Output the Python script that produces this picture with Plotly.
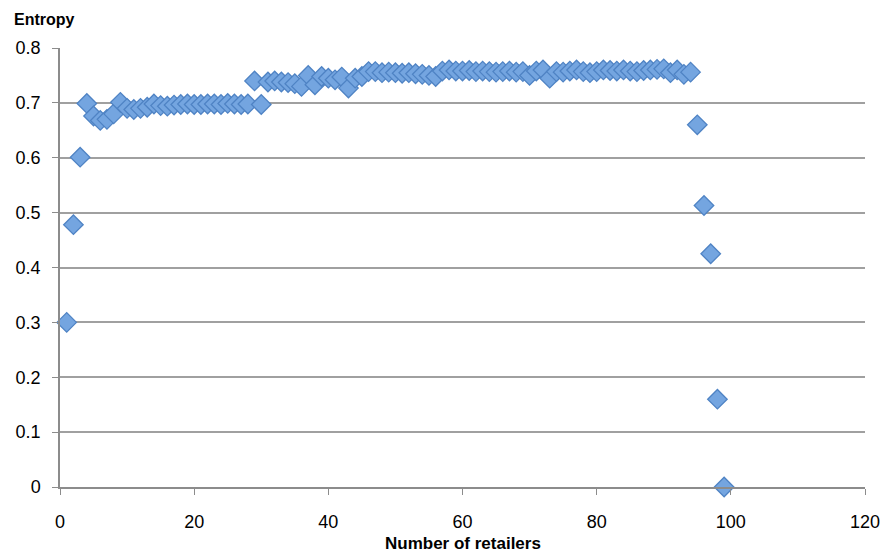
import plotly.graph_objects as go

retailers = list(range(1, 100))
entropy = [
    0.300, 0.478, 0.601, 0.699, 0.676, 0.668, 0.670, 0.680, 0.701, 0.690,
    0.688, 0.690, 0.692, 0.698, 0.695, 0.694, 0.696, 0.697, 0.698, 0.697,
    0.697, 0.698, 0.698, 0.697, 0.699, 0.698, 0.697, 0.698, 0.740, 0.697,
    0.738, 0.740, 0.738, 0.737, 0.735, 0.730, 0.750, 0.733, 0.748, 0.745,
    0.742, 0.747, 0.727, 0.745, 0.748, 0.757, 0.757, 0.755, 0.756, 0.755,
    0.754, 0.755, 0.753, 0.752, 0.750, 0.748, 0.758, 0.760, 0.758, 0.758,
    0.759, 0.757, 0.758, 0.757, 0.756, 0.757, 0.758, 0.756, 0.757, 0.750,
    0.758, 0.760, 0.745, 0.757, 0.756, 0.758, 0.760, 0.757, 0.755, 0.757,
    0.760, 0.759, 0.758, 0.760, 0.758, 0.757, 0.759, 0.760, 0.761, 0.762,
    0.755, 0.760, 0.752, 0.756, 0.660, 0.513, 0.425, 0.160, 0.000,
]

x_ticks = [0, 20, 40, 60, 80, 100, 120]
y_ticks = [0, 0.1, 0.2, 0.3, 0.4, 0.5, 0.6, 0.7, 0.8]
y_tick_text = ["0", "0.1", "0.2", "0.3", "0.4", "0.5", "0.6", "0.7", "0.8"]

fig = go.Figure()
fig.add_trace(go.Scatter(
    x=retailers, y=entropy, mode="markers",
    marker=dict(symbol="diamond", size=15, color="#74a5e0",
                line=dict(color="#4f83c4", width=1.3)),
    cliponaxis=False,
))

font = "Liberation Sans, Arial, sans-serif"
fig.update_layout(
    width=892, height=554,
    margin=dict(l=60, r=22, t=48, b=67),
    paper_bgcolor="white", plot_bgcolor="white",
    showlegend=False,
    font=dict(family=font, size=18, color="black"),
    xaxis=dict(range=[0, 120], tickvals=x_ticks, ticktext=[str(v) for v in x_ticks],
               showgrid=False, zeroline=False, showline=True, linecolor="#8c8c8c",
               linewidth=1.5, ticks="outside", ticklen=6, tickcolor="#8c8c8c",
               ticklabelstandoff=12),
    yaxis=dict(range=[0, 0.8], tickvals=y_ticks, ticktext=y_tick_text,
               showgrid=True, gridcolor="#a0a0a0", gridwidth=1.5, zeroline=False,
               showline=True, linecolor="#8c8c8c", linewidth=1.5,
               ticks="outside", ticklen=6, tickcolor="#8c8c8c", ticklabelstandoff=8),
    annotations=[
        dict(text="<b>Entropy</b>", xref="paper", yref="paper", x=0, y=1.0,
             xshift=-48, yshift=29, xanchor="left", yanchor="middle", showarrow=False,
             font=dict(family=font, size=16)),
        dict(text="<b>Number of retailers</b>", xref="paper", yref="paper", x=0.5,
             y=0, yshift=-56, xanchor="center", yanchor="middle", showarrow=False,
             font=dict(family=font, size=17)),
    ],
)

fig.write_html("out.html")
